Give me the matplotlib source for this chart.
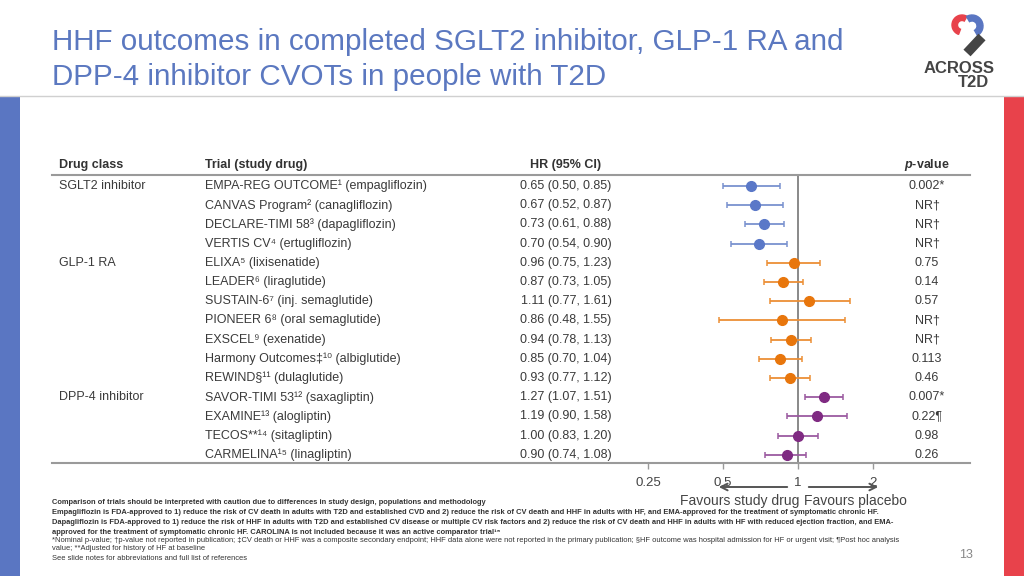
import matplotlib
matplotlib.use("Agg")
import matplotlib.pyplot as plt
import numpy as np
from matplotlib.lines import Line2D
from matplotlib.patches import Rectangle, Wedge, FancyArrowPatch
from matplotlib.transforms import blended_transform_factory

plt.rcParams["font.family"] = ["Liberation Sans", "DejaVu Sans"]
plt.rcParams["mathtext.fontset"] = "custom"
plt.rcParams["mathtext.rm"] = "Liberation Sans"
plt.rcParams["mathtext.it"] = "Liberation Sans:italic:bold"
plt.rcParams["mathtext.bf"] = "Liberation Sans:bold"

# data
CLASSES = ["SGLT2 inhibitor", "GLP-1 RA", "DPP-4 inhibitor"]
TRIALS = [
    "EMPA-REG OUTCOME¹ (empagliflozin)",
    "CANVAS Program² (canagliflozin)",
    "DECLARE-TIMI 58³ (dapagliflozin)",
    "VERTIS CV⁴ (ertugliflozin)",
    "ELIXA⁵ (lixisenatide)",
    "LEADER⁶ (liraglutide)",
    "SUSTAIN-6⁷ (inj. semaglutide)",
    "PIONEER 6⁸ (oral semaglutide)",
    "EXSCEL⁹ (exenatide)",
    "Harmony Outcomes‡¹⁰ (albiglutide)",
    "REWIND§¹¹ (dulaglutide)",
    "SAVOR-TIMI 53¹² (saxagliptin)",
    "EXAMINE¹³ (alogliptin)",
    "TECOS**¹⁴ (sitagliptin)",
    "CARMELINA¹⁵ (linagliptin)",
]
TRIAL_CLASS = [0, 0, 0, 0, 1, 1, 1, 1, 1, 1, 1, 2, 2, 2, 2]
HR = [0.65, 0.67, 0.73, 0.70, 0.96, 0.87, 1.11, 0.86, 0.94, 0.85, 0.93, 1.27, 1.19, 1.00, 0.90]
HR_LO = [0.50, 0.52, 0.61, 0.54, 0.75, 0.73, 0.77, 0.48, 0.78, 0.70, 0.77, 1.07, 0.90, 0.83, 0.74]
HR_HI = [0.85, 0.87, 0.88, 0.90, 1.23, 1.05, 1.61, 1.55, 1.13, 1.04, 1.12, 1.51, 1.58, 1.20, 1.08]
P_VALUES = ["0.002*", "NR†", "NR†", "NR†", "0.75", "0.14", "0.57", "NR†", "NR†",
            "0.113", "0.46", "0.007*", "0.22¶", "0.98", "0.26"]
X_TICKS = [0.25, 0.5, 1, 2]
X_TICK_LABELS = ["0.25", "0.5", "1", "2"]

MARKER_COLORS = ["#5a78c8", "#e8760c", "#7f2a82"]
BAR_COLORS = ["#7a92cf", "#ec8f36", "#9b5aa0"]

W, H = 1024, 576
TEXT = "#3a3a3a"


def fx(px):
    return px / W


def fy(px):
    return 1 - px / H


fig = plt.figure(figsize=(10.24, 5.76), dpi=100)
fig.patch.set_facecolor("white")

# slide furniture
fig.add_artist(Rectangle((0, 0), fx(20), fy(97), transform=fig.transFigure,
                         color="#5a76c2", lw=0))
fig.add_artist(Rectangle((fx(1004), 0), fx(20), fy(97), transform=fig.transFigure,
                         color="#e8424b", lw=0))
fig.add_artist(Line2D([0, 1], [fy(96), fy(96)], transform=fig.transFigure,
                      color="#d0d0d0", lw=1))

title_color = "#5b78c0"
fig.text(fx(52), fy(50), "HHF outcomes in completed SGLT2 inhibitor, GLP-1 RA and",
         fontsize=21.3, color=title_color, va="baseline")
fig.text(fx(52), fy(85), "DPP-4 inhibitor CVOTs in people with T2D",
         fontsize=21.3, color=title_color, va="baseline")

# logo, drawn in pixel units (y pointing down)
lax = fig.add_axes([fx(940), fy(60), fx(60), fy(5) - fy(60)])
lax.set_xlim(940, 1000)
lax.set_ylim(60, 5)
lax.axis("off")
lax.add_patch(Wedge((962, 25), 10, -250, -60, width=5.5, color="#e8424b"))
lax.add_patch(Wedge((972, 26), 11, -120, 60, width=6, color="#5a76c2"))
lax.plot([982, 967], [37, 53], color="#454545", lw=7, solid_capstyle="butt")
fig.text(fx(959.5), fy(72.7), "ACROSS", fontsize=12, fontweight="bold", color="#454545",
         ha="center", va="baseline")
fig.text(fx(973), fy(87), "T2D", fontsize=12, fontweight="bold", color="#454545",
         ha="center", va="baseline")

# table lines
for ypx in (175, 463):
    fig.add_artist(Line2D([fx(52), fx(970)], [fy(ypx), fy(ypx)], transform=fig.transFigure,
                          color="#9a9a9a", lw=1.5))

# header
hy = fy(165)
fig.text(fx(59), hy, "Drug class", fontsize=9, fontweight="bold", color="#333", va="center")
fig.text(fx(205), hy, "Trial (study drug)", fontsize=9, fontweight="bold", color="#333", va="center")
fig.text(fx(566), hy, "HR (95% CI)", fontsize=9, fontweight="bold", color="#333",
         va="center", ha="center")
fig.text(fx(927), hy, r"$\it{p}$-value", fontsize=9, fontweight="bold", color="#333",
         va="center", ha="center")

# forest axes, log scale: 75 px per doubling, HR=1 at x=798
ax_l, ax_r = 620, 960
ax = fig.add_axes([fx(ax_l), fy(463), fx(ax_r - ax_l), fy(175) - fy(463)])
ax.set_xscale("log")
ax.set_xlim(2 ** ((ax_l - 798) / 75), 2 ** ((ax_r - 798) / 75))
row_step = 19.2
ax.set_ylim(14 + (463 - (186 + 14 * row_step)) / row_step, -(186 - 175) / row_step)
ax.patch.set_alpha(0)
for s in ax.spines.values():
    s.set_visible(False)

rows = np.arange(len(TRIALS))
hr = np.array(HR)
lo = np.array(HR_LO)
hi = np.array(HR_HI)
cls = np.array(TRIAL_CLASS)

ax.axvline(1, color="#6a6a6a", lw=1.1, zorder=1)
for k in range(len(CLASSES)):
    m = cls == k
    ax.errorbar(hr[m], rows[m], xerr=[hr[m] - lo[m], hi[m] - hr[m]], fmt="o",
                color=MARKER_COLORS[k], ecolor=BAR_COLORS[k], elinewidth=1.3,
                capsize=2.5, capthick=1.1, markersize=7, zorder=3)

ax.set_xticks(X_TICKS)
ax.set_xticklabels(X_TICK_LABELS)
ax.xaxis.set_minor_locator(matplotlib.ticker.NullLocator())
ax.tick_params(axis="x", direction="out", length=4, width=1, color="#9a9a9a",
               labelsize=9.5, labelcolor="#444", pad=6)
ax.set_yticks([])

# table text tied to rows
tr = blended_transform_factory(fig.transFigure, ax.transData)
seen = set()
for i, name in enumerate(TRIALS):
    if TRIAL_CLASS[i] not in seen:
        seen.add(TRIAL_CLASS[i])
        ax.text(fx(59), i, CLASSES[TRIAL_CLASS[i]], transform=tr, fontsize=9,
                color=TEXT, va="center")
    ax.text(fx(205), i, name, transform=tr, fontsize=9, color=TEXT, va="center")
    ax.text(fx(566), i, f"{HR[i]:.2f} ({HR_LO[i]:.2f}, {HR_HI[i]:.2f})", transform=tr,
            fontsize=9, color=TEXT, va="center", ha="center")
    ax.text(fx(927), i, P_VALUES[i], transform=tr, fontsize=9, color=TEXT,
            va="center", ha="center")

# favours arrows
arrow_kw = dict(arrowstyle="->", color="#555", lw=1.4, mutation_scale=12)
fig.add_artist(FancyArrowPatch((fx(790), fy(487)), (fx(716), fy(487)),
                               transform=fig.transFigure, **arrow_kw))
fig.add_artist(FancyArrowPatch((fx(806), fy(487)), (fx(881), fy(487)),
                               transform=fig.transFigure, **arrow_kw))
fig.text(fx(740), fy(501), "Favours study drug", fontsize=10, color="#444",
         ha="center", va="center")
fig.text(fx(855), fy(501), "Favours placebo", fontsize=10, color="#444",
         ha="center", va="center")

# footnotes
notes = [
    (503, "Comparison of trials should be interpreted with caution due to differences in study design, populations and methodology", "bold"),
    (513, "Empagliflozin is FDA-approved to 1) reduce the risk of CV death in adults with T2D and established CVD and 2) reduce the risk of CV death and HHF in adults with HF, and EMA-approved for the treatment of symptomatic chronic HF.", "bold"),
    (523, "Dapagliflozin is FDA-approved to 1) reduce the risk of HHF in adults with T2D and established CV disease or multiple CV risk factors and 2) reduce the risk of CV death and HHF in adults with HF with reduced ejection fraction, and EMA-", "bold"),
    (532, "approved for the treatment of symptomatic chronic HF. CAROLINA is not included because it was an active comparator trial¹⁵", "bold"),
    (541, "*Nominal p-value; †p-value not reported in publication; ‡CV death or HHF was a composite secondary endpoint; HHF data alone were not reported in the primary publication; §HF outcome was hospital admission for HF or urgent visit; ¶Post hoc analysis", "normal"),
    (549, "value; **Adjusted for history of HF at baseline", "normal"),
    (558, "See slide notes for abbreviations and full list of references", "normal"),
]
for ypx, txt, wt in notes:
    fig.text(fx(52), fy(ypx), txt, fontsize=5.4, fontweight=wt, color="#333",
             va="center")

fig.text(fx(966), fy(555), "13", fontsize=9, color="#888", ha="center", va="center")

fig.savefig("out.png", dpi=100)
